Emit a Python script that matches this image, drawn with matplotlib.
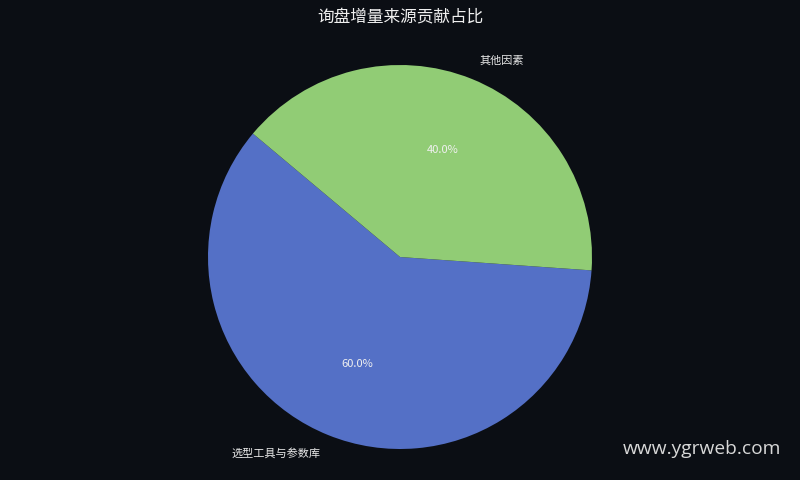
import matplotlib
matplotlib.use('Agg')
import matplotlib.pyplot as plt

plt.rcParams['font.family'] = ['Noto Sans CJK SC', 'DejaVu Sans']

# 数据
categories = ['选型工具与参数库', '其他因素']
shares = [60, 40]
colors = ['#5470c6', '#91cc75']
title = '询盘增量来源贡献占比'

bg = '#0b0e14'
fig = plt.figure(figsize=(8, 4.8), dpi=100, facecolor=bg)
ax = fig.add_axes([0, 0, 1, 1])
ax.set_facecolor(bg)

wedges, texts, autotexts = ax.pie(
    shares, labels=categories, colors=colors, startangle=140,
    autopct='%1.1f%%', pctdistance=0.6, labeldistance=1.1,
    textprops={'color': '#e8e8e8', 'fontsize': 8},
)
for t in autotexts:
    t.set_color('#f0f0f0')

# 半径 192 px，圆心在 (400, 257)
ax.set_xlim(-400 / 192, 400 / 192)
ax.set_ylim(-223 / 192, 257 / 192)
ax.set_aspect('auto')
ax.axis('off')

fig.text(0.5, 1 - 18 / 480, title, ha='center', va='center',
         color='#f0f0f0', fontsize=12)
fig.text(781 / 800, 1 - 449 / 480, 'www.ygrweb.com', ha='right', va='center',
         color='#d8d8d8', fontsize=13.8, family=['Open Sans', 'DejaVu Sans'])

fig.savefig('out.png', dpi=100, facecolor=bg)
